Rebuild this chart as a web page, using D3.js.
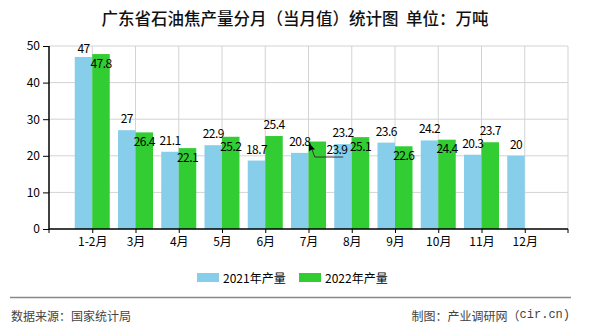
<!DOCTYPE html>
<html><head><meta charset="utf-8">
<script src="https://cdn.jsdelivr.net/npm/d3@7"></script>
<style>
html,body{margin:0;padding:0;background:#fff;}
svg{display:block;}
text{font-family:"Noto Sans CJK SC","Noto Sans",sans-serif;}
</style></head>
<body>
<script>
const months = ["1-2月","3月","4月","5月","6月","7月","8月","9月","10月","11月","12月"];
const values2021 = [47, 27, 21.1, 22.9, 18.7, 20.8, 23.2, 23.6, 24.2, 20.3, 20];
const values2022 = [47.8, 26.4, 22.1, 25.2, 25.4, 23.9, 25.1, 22.6, 24.4, 23.7, null];
const seriesNames = ["2021年产量", "2022年产量"];
const yTicks = [0, 10, 20, 30, 40, 50];
// label placement for 2022 series (inside / outside / with leader line)
const labelPlace2022 = ["in","in","in","in","out","lead","in","in","in","out", null];

const W = 590, H = 330;
const colors = ["#87CEEB", "#32CD32"];
const svg = d3.select("body").append("svg").attr("width", W).attr("height", H);

const L = 49, R = 568, T = 46, B = 229;
const x = d3.scalePoint().domain(months).range([L, R]).padding(1);
const y = d3.scaleLinear().domain([0, 50]).range([B, T]);
const bw = 17.5;

// title
svg.append("text").attr("x", 295).attr("y", 18).attr("text-anchor", "middle")
  .attr("dominant-baseline", "central").attr("font-size", "16.5px").attr("fill", "#111")
  .attr("font-weight", 500)
  .text("广东省石油焦产量分月（当月值）统计图\u00a0\u00a0单位：万吨");

// grid
const g = svg.append("g");
g.selectAll("line.h").data(yTicks.filter(d => d > 0)).join("line")
  .attr("x1", L).attr("x2", R).attr("y1", d => y(d)).attr("y2", d => y(d))
  .attr("stroke", "#d3d3d3").attr("stroke-width", 1);
const vx = [...months.map(m => x(m)), R];
g.selectAll("line.v").data(vx).join("line")
  .attr("x1", d => d).attr("x2", d => d).attr("y1", T).attr("y2", B)
  .attr("stroke", "#d3d3d3").attr("stroke-width", 1);

// bars
const bars = svg.append("g");
bars.selectAll("rect.a").data(months).join("rect")
  .attr("x", (m) => x(m) - bw).attr("width", bw)
  .attr("y", (m, i) => y(values2021[i])).attr("height", (m, i) => B - y(values2021[i]))
  .attr("fill", colors[0]);
bars.selectAll("rect.b").data(months.filter((m, i) => values2022[i] != null)).join("rect")
  .attr("x", (m) => x(m)).attr("width", bw)
  .attr("y", (m, i) => y(values2022[i])).attr("height", (m, i) => B - y(values2022[i]))
  .attr("fill", colors[1]);

// axes
const ya = d3.axisLeft(y).tickValues(yTicks).tickSize(6).tickPadding(3);
const yg = svg.append("g").attr("transform", `translate(${L},0)`).call(ya);
const xa = d3.axisBottom(x).tickSize(4).tickPadding(4);
const xg = svg.append("g").attr("transform", `translate(0,${B})`).call(xa);
xg.select(".domain").remove();
yg.select(".domain").remove();
[yg, xg].forEach(s => {
  s.selectAll("text").attr("font-size", "12px").attr("fill", "#000")
   .attr("font-family", '"Noto Sans CJK SC",sans-serif');
  s.selectAll(".tick line").attr("stroke", "#000");
});
// end ticks on x axis
svg.selectAll("line.xe").data([L, R]).join("line")
  .attr("x1", d => d).attr("x2", d => d).attr("y1", B).attr("y2", B + 4).attr("stroke", "#000");
svg.append("line").attr("x1", L).attr("x2", L).attr("y1", T).attr("y2", B + 0.5)
  .attr("stroke", "#000").attr("stroke-width", 1.5);
svg.append("line").attr("x1", L).attr("x2", R).attr("y1", B).attr("y2", B)
  .attr("stroke", "#000").attr("stroke-width", 1.5);

// value labels
const lab = svg.append("g").attr("fill", "#000")
  .attr("text-anchor", "middle").attr("dominant-baseline", "central");
const numText = (sel) => sel.attr("font-family", '"Liberation Mono",monospace')
  .attr("font-size", "12px").attr("letter-spacing", "-0.6px");
months.forEach((m, i) => {
  const cx = x(m) - bw / 2;
  lab.append("text").attr("x", cx).attr("y", Math.max(T + 1, y(values2021[i]) - 12.5))
    .call(numText).text(values2021[i]);
  const v = values2022[i];
  if (v == null) return;
  const gx = x(m) + bw / 2, top = y(v);
  const p = labelPlace2022[i];
  let lx = gx, ly = top + 8.3;
  if (p === "out") ly = top - 12.5;
  if (p === "lead") {
    lx = gx + 19.7; ly = top + 7.2;
    svg.append("polyline")
      .attr("points", [[x(m) + 1.3, top + 2.2], [x(m) + 6.3, top + 15.5], [x(m) + 34.7, top + 15.5]].map(q => q.join(",")).join(" "))
      .attr("fill", "none").attr("stroke", "#333").attr("stroke-width", 1);
    svg.append("polygon")
      .attr("points", [[x(m) + 0.5, top + 1.5], [x(m) + 0.5, top + 10], [x(m) + 3, top + 8], [x(m) + 6.5, top + 8]].map(q => q.join(",")).join(" "))
      .attr("fill", "#000");
  }
  lab.append("text").attr("x", lx).attr("y", ly).call(numText).text(v);
});

// legend
const lg = svg.append("g");
const legX = [197, 299];
seriesNames.forEach((n, i) => {
  lg.append("rect").attr("x", legX[i]).attr("y", 273).attr("width", 22).attr("height", 9).attr("fill", colors[i]);
  lg.append("text").attr("x", legX[i] + 26).attr("y", 277.5).attr("dominant-baseline", "central")
    .attr("font-size", "12px").attr("fill", "#000").text(n);
});

// footer
svg.append("line").attr("x1", 10).attr("x2", 571).attr("y1", 297.5).attr("y2", 297.5)
  .attr("stroke", "#888").attr("stroke-width", 1.5);
svg.append("text").attr("x", 11).attr("y", 315).attr("dominant-baseline", "central")
  .attr("font-size", "12px").attr("fill", "#444").text("数据来源：国家统计局");
const ft = svg.append("text").attr("x", 570).attr("y", 315).attr("dominant-baseline", "central")
  .attr("text-anchor", "end").attr("font-size", "12px").attr("fill", "#444");
ft.append("tspan").text("制图：产业调研网（");
ft.append("tspan").attr("font-family", '"Liberation Mono",monospace').text("cir.cn)");
</script>
</body></html>
